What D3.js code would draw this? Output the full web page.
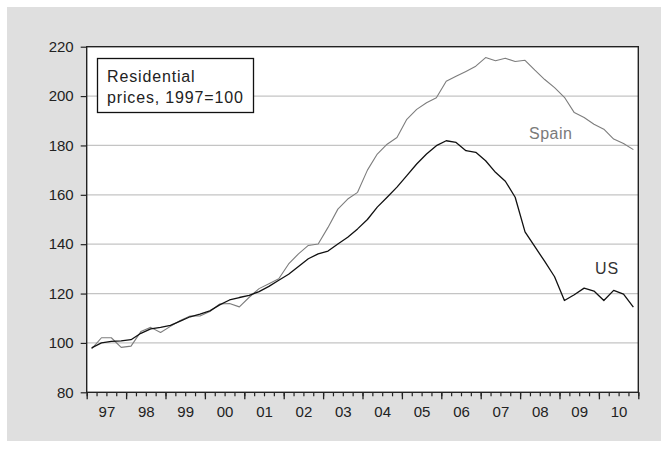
<!DOCTYPE html>
<html>
<head>
<meta charset="utf-8">
<script src="https://cdn.jsdelivr.net/npm/d3@7"></script>
<style>
  html, body { margin: 0; padding: 0; background: #ffffff; }
  svg { display: block; }
  text { font-family: "Liberation Sans", Arial, sans-serif; }
</style>
</head>
<body>
<svg id="chart" width="671" height="449"></svg>
<script>
// ---- data (quarterly, 1997Q1 .. 2010Q4) ----
const yearLabels = ["97","98","99","00","01","02","03","04","05","06","07","08","09","10"];
const yTicks = [80, 100, 120, 140, 160, 180, 200, 220];
const gridValues = [100, 120, 140, 160, 180, 200];
const usValues = [
  98.0, 100.0, 100.6, 100.8, 101.3, 103.9, 105.7, 106.3,
  107.1, 108.8, 110.6, 111.7, 113.0, 115.4, 117.4, 118.4,
  119.3, 120.8, 122.9, 125.4, 127.8, 131.0, 134.1, 136.1,
  137.2, 140.1, 142.8, 146.2, 150.0, 155.0, 159.0, 163.1,
  167.8, 172.5, 176.5, 179.9, 181.9, 181.2, 177.9, 177.2,
  173.8, 169.1, 165.5, 159.0, 145.0, 139.0, 133.0, 126.8,
  117.2, 119.5, 122.2, 121.0, 117.2, 121.3, 119.8, 114.5
];
const spainValues = [
  97.6, 102.1, 102.1, 98.2, 98.7, 104.6, 106.3, 104.2,
  106.7, 109.1, 110.9, 110.9, 112.7, 115.8, 116.0, 114.6,
  118.5, 122.0, 124.0, 126.0, 132.0, 136.1, 139.5, 140.1,
  146.8, 154.2, 158.3, 161.0, 170.0, 176.5, 180.5, 183.2,
  190.6, 194.6, 197.3, 199.3, 206.0, 208.0, 210.0, 212.1,
  215.6, 214.3, 215.3, 214.0, 214.5, 210.5, 206.7, 203.4,
  199.5, 193.3, 191.3, 188.6, 186.6, 182.6, 180.8, 178.3
];
const legendLines = ["Residential", "prices, 1997=100"];
const seriesLabels = ["Spain", "US"];

// ---- layout ----
const svg = d3.select("#chart");
const L = 86.7, R = 638.3, T = 46.7, B = 392.3;
const n = usValues.length;

svg.append("rect").attr("x", 7).attr("y", 7).attr("width", 654).attr("height", 434)
  .attr("fill", "#dfdfdf");

const x = d3.scaleLinear().domain([-0.5, n - 0.5]).range([L, R]);
const y = d3.scaleLinear().domain([80, 220]).range([B, T]);

// plot background
svg.append("rect").attr("x", L).attr("y", T).attr("width", R - L).attr("height", B - T)
  .attr("fill", "#ffffff");

// grid
svg.append("g").selectAll("line").data(gridValues).join("line")
  .attr("x1", L).attr("x2", R)
  .attr("y1", d => y(d)).attr("y2", d => y(d))
  .attr("stroke", "#c4c4c4").attr("stroke-width", 1.2);

// y axis
const yAxis = svg.append("g").attr("transform", `translate(${L},0)`)
  .call(d3.axisLeft(y).tickValues(yTicks).tickSize(6).tickPadding(7).tickFormat(d3.format("d")));
yAxis.select(".domain").remove();
yAxis.selectAll(".tick line").attr("stroke", "#222").attr("stroke-width", 1.2);
yAxis.selectAll(".tick text").attr("font-size", 15).attr("fill", "#222")
  .style("font-family", "'Liberation Sans', Arial, sans-serif");

// x axis: minor quarter ticks, major year ticks, labels
const quarterBounds = d3.range(0, n + 1).map(k => k - 0.5);
const yearBounds = quarterBounds.filter((d, k) => k % 4 === 0);
const yearCenters = yearLabels.map((d, k) => 4 * k + 1.5);

const xMinor = svg.append("g").attr("transform", `translate(0,${B})`)
  .call(d3.axisBottom(x).tickValues(quarterBounds).tickSize(4).tickFormat(""));
xMinor.select(".domain").remove();
xMinor.selectAll(".tick line").attr("stroke", "#222").attr("stroke-width", 1.2);

const xMajor = svg.append("g").attr("transform", `translate(0,${B})`)
  .call(d3.axisBottom(x).tickValues(yearBounds).tickSize(7).tickFormat(""));
xMajor.select(".domain").remove();
xMajor.selectAll(".tick line").attr("stroke", "#222").attr("stroke-width", 1.3);

const xLab = svg.append("g").attr("transform", `translate(0,${B})`)
  .call(d3.axisBottom(x).tickValues(yearCenters).tickSize(0).tickPadding(14)
    .tickFormat((d, k) => yearLabels[k]));
xLab.select(".domain").remove();
xLab.selectAll(".tick text").attr("font-size", 15).attr("fill", "#222")
  .style("font-family", "'Liberation Sans', Arial, sans-serif");

// lines
const line = d3.line().x((d, i) => x(i)).y(d => y(d));
svg.append("path").datum(spainValues).attr("d", line)
  .attr("fill", "none").attr("stroke", "#7d7d7d").attr("stroke-width", 1.1)
  .attr("stroke-linejoin", "round");
svg.append("path").datum(usValues).attr("d", line)
  .attr("fill", "none").attr("stroke", "#111").attr("stroke-width", 1.3)
  .attr("stroke-linejoin", "round");

// frame
svg.append("rect").attr("x", L).attr("y", T).attr("width", R - L).attr("height", B - T)
  .attr("fill", "none").attr("stroke", "#222").attr("stroke-width", 1.4);

// legend box
svg.append("rect").attr("x", 97.5).attr("y", 58.5).attr("width", 156).attr("height", 54)
  .attr("fill", "#ffffff").attr("stroke", "#111").attr("stroke-width", 1.3);
svg.append("g").selectAll("text").data(legendLines).join("text")
  .attr("x", 107).attr("y", (d, i) => 82 + i * 20.5)
  .attr("font-size", 16).attr("letter-spacing", 0.85).attr("fill", "#222")
  .text(d => d);

// series labels
svg.append("text").attr("x", 529).attr("y", 138.5).attr("font-size", 16)
  .attr("letter-spacing", 0.5).attr("fill", "#7a7a7a").text(seriesLabels[0]);
svg.append("text").attr("x", 595).attr("y", 274).attr("font-size", 16)
  .attr("letter-spacing", 1).attr("fill", "#333").text(seriesLabels[1]);
</script>
</body>
</html>
